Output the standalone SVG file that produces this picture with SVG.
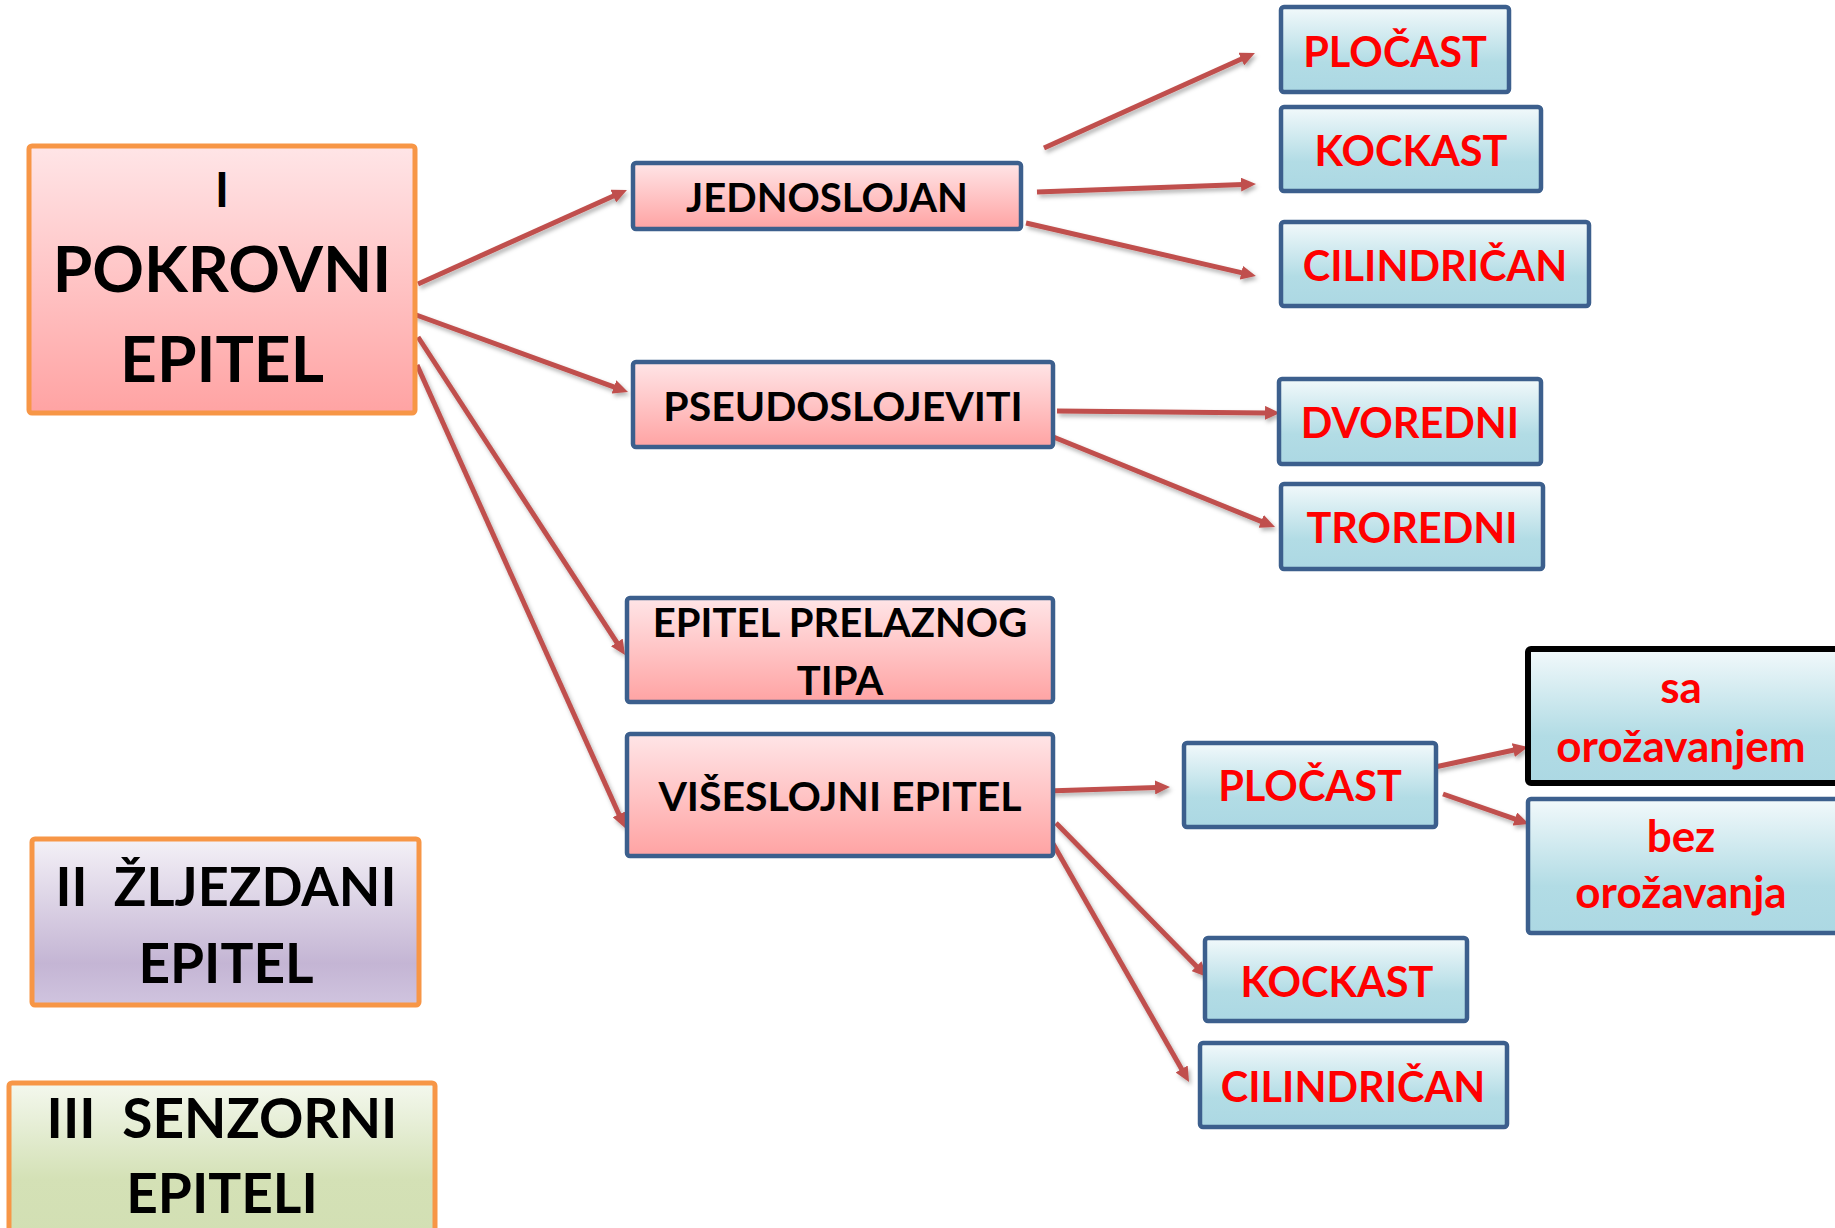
<svg xmlns="http://www.w3.org/2000/svg" width="1835" height="1228" viewBox="0 0 1835 1228">
  <defs>
    <linearGradient id="gPink" x1="0" y1="0" x2="0" y2="1">
      <stop offset="0" stop-color="#FFE5E7"/>
      <stop offset="1" stop-color="#FFA3A3"/>
    </linearGradient>
    <linearGradient id="gBlue" x1="0" y1="0" x2="0" y2="1">
      <stop offset="0" stop-color="#F2F9FB"/>
      <stop offset="0.65" stop-color="#B2DCE5"/>
      <stop offset="1" stop-color="#ACD8E3"/>
    </linearGradient>
    <linearGradient id="gPurple" x1="0" y1="0" x2="0" y2="1">
      <stop offset="0" stop-color="#F4F1F7"/>
      <stop offset="0.75" stop-color="#C4B5D4"/>
      <stop offset="1" stop-color="#D0C4DF"/>
    </linearGradient>
    <linearGradient id="gGreen" x1="0" y1="0" x2="0" y2="1">
      <stop offset="0" stop-color="#F4F8EE"/>
      <stop offset="0.6" stop-color="#D4E1B6"/>
      <stop offset="1" stop-color="#D2DFB3"/>
    </linearGradient>
    <marker id="arr" markerUnits="userSpaceOnUse" markerWidth="15" markerHeight="14" refX="2" refY="7" orient="auto">
      <path d="M0,0 L15,7 L0,14 z" fill="#C0504D"/>
    </marker>
    <filter id="sh" x="-10%" y="-10%" width="130%" height="130%">
      <feDropShadow dx="2" dy="3" stdDeviation="2" flood-color="#000" flood-opacity="0.3"/>
    </filter>
  </defs>
  <style>
    .pk { fill: url(#gPink); stroke: #3C5F8D; stroke-width: 4.5; }
    .bl { fill: url(#gBlue); stroke: #3C5F8D; stroke-width: 4.5; }
    .or { stroke: #F79646; stroke-width: 5; }
    .t { font-family: Lato, "Liberation Sans", sans-serif; font-weight: 700; text-anchor: middle; }
    .k { fill: #000; }
    .r { fill: #FF0000; }
    .c line { stroke: #C0504D; stroke-width: 5; marker-end: url(#arr); }
  </style>
  <rect width="1835" height="1228" fill="#FFFFFF"/>

  <g id="connectors" class="c" filter="url(#sh)">
    <line x1="418" y1="284" x2="615.1" y2="195.3"/>
    <line x1="408" y1="312" x2="615.8" y2="387.6"/>
    <line x1="418" y1="337" x2="617.9" y2="644.1"/>
    <line x1="417" y1="365" x2="619.7" y2="816.1"/>
    <line x1="1044" y1="148" x2="1243.1" y2="58.3"/>
    <line x1="1037" y1="192" x2="1243" y2="184.5"/>
    <line x1="1026" y1="223" x2="1243.3" y2="273.1"/>
    <line x1="1057" y1="411" x2="1267" y2="412.9"/>
    <line x1="1046" y1="434" x2="1263" y2="522.1"/>
    <line x1="1047" y1="791" x2="1157" y2="787.4"/>
    <line x1="1435" y1="767" x2="1515.3" y2="749.7"/>
    <line x1="1443" y1="794" x2="1516.7" y2="819.7"/>
    <line x1="1056" y1="823" x2="1197.9" y2="967.7"/>
    <line x1="1052" y1="842" x2="1182.6" y2="1070.7"/>
  </g>

  <g id="n-pokrovni">
    <rect x="29" y="146" width="386" height="267" rx="3" fill="url(#gPink)" class="or"/>
    <text class="t k" x="222" y="207" font-size="47">I</text>
    <text class="t k" x="222" y="292" font-size="64">POKROVNI</text>
    <text class="t k" x="222" y="382" font-size="64">EPITEL</text>
  </g>
  <g id="n-zljezdani">
    <rect x="32" y="839" width="387" height="166" rx="3" fill="url(#gPurple)" class="or"/>
    <text class="t k" x="226" y="906" font-size="54" xml:space="preserve">II  ŽLJEZDANI</text>
    <text class="t k" x="226" y="983" font-size="55">EPITEL</text>
  </g>
  <g id="n-senzorni">
    <rect x="9" y="1083" width="426" height="160" rx="3" fill="url(#gGreen)" class="or"/>
    <text class="t k" x="222" y="1138" font-size="55" xml:space="preserve">III  SENZORNI</text>
    <text class="t k" x="222" y="1213" font-size="55">EPITELI</text>
  </g>

  <g id="n-jednoslojan">
    <rect x="633" y="163" width="388" height="66" rx="3" class="pk"/>
    <text class="t k" x="827" y="212" font-size="40">JEDNOSLOJAN</text>
  </g>
  <g id="n-pseudoslojeviti">
    <rect x="633" y="362" width="420" height="85" rx="3" class="pk"/>
    <text class="t k" x="843" y="421" font-size="41">PSEUDOSLOJEVITI</text>
  </g>
  <g id="n-prelaznog">
    <rect x="627" y="598" width="426" height="104" rx="3" class="pk"/>
    <text class="t k" x="840" y="637" font-size="40">EPITEL PRELAZNOG</text>
    <text class="t k" x="840" y="695" font-size="40">TIPA</text>
  </g>
  <g id="n-viseslojni">
    <rect x="627" y="734" width="426" height="122" rx="3" class="pk"/>
    <text class="t k" x="840" y="811" font-size="41">VIŠESLOJNI EPITEL</text>
  </g>

  <g id="n-plocast1">
    <rect x="1281" y="7" width="228" height="85" rx="3" class="bl"/>
    <text class="t r" x="1395" y="67" font-size="41.5">PLOČAST</text>
  </g>
  <g id="n-kockast1">
    <rect x="1281" y="107" width="260" height="84" rx="3" class="bl"/>
    <text class="t r" x="1411" y="166" font-size="41.5">KOCKAST</text>
  </g>
  <g id="n-cilindrican1">
    <rect x="1281" y="222" width="308" height="84" rx="3" class="bl"/>
    <text class="t r" x="1435" y="281" font-size="41.5">CILINDRIČAN</text>
  </g>
  <g id="n-dvoredni">
    <rect x="1279" y="379" width="262" height="85" rx="3" class="bl"/>
    <text class="t r" x="1410" y="438" font-size="41.5">DVOREDNI</text>
  </g>
  <g id="n-troredni">
    <rect x="1281" y="484" width="262" height="85" rx="3" class="bl"/>
    <text class="t r" x="1412" y="543" font-size="41.5">TROREDNI</text>
  </g>
  <g id="n-plocast2">
    <rect x="1184" y="743" width="252" height="84" rx="3" class="bl"/>
    <text class="t r" x="1310" y="801" font-size="41.5">PLOČAST</text>
  </g>
  <g id="n-sa">
    <rect x="1528" y="649" width="320" height="134" rx="3" fill="url(#gBlue)" stroke="#000" stroke-width="6"/>
    <text class="t r" x="1681" y="703" font-size="44">sa</text>
    <text class="t r" x="1681" y="762" font-size="44">orožavanjem</text>
  </g>
  <g id="n-bez">
    <rect x="1528" y="799" width="320" height="134" rx="3" class="bl"/>
    <text class="t r" x="1681" y="852" font-size="44">bez</text>
    <text class="t r" x="1681" y="908" font-size="44">orožavanja</text>
  </g>
  <g id="n-kockast2">
    <rect x="1205" y="938" width="262" height="83" rx="3" class="bl"/>
    <text class="t r" x="1337" y="997" font-size="41.5">KOCKAST</text>
  </g>
  <g id="n-cilindrican2">
    <rect x="1200" y="1043" width="307" height="84" rx="3" class="bl"/>
    <text class="t r" x="1353" y="1102" font-size="41.5">CILINDRIČAN</text>
  </g>
</svg>
